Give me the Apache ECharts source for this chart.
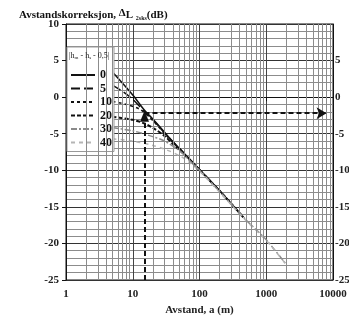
<!DOCTYPE html>
<html>
<head>
<meta charset="utf-8">
<script src="https://cdn.jsdelivr.net/npm/echarts@6/dist/echarts.min.js"></script>
<style>
html, body { margin: 0; padding: 0; background: #fff; }
#chart { width: 349px; height: 321px; }
</style>
</head>
<body>
<div id="chart"></div>
<script>
// kurver for |hm - hs - 0,5| (avstand a i m, korreksjon i dB)
var names = ['0', '5', '10', '20', '30', '40']
var h0 = [[5, 3.4], [10, 0.3], [15, -1.8], [20, -3.0], [30, -4.8], [40, -6.1], [50, -7.0], [100, -9.9], [200, -12.8], [450, -16.4]]
var h5 = [[5, 1.6], [7, 0.8], [10, -0.3], [13, -1.4], [16, -2.3], [20, -3.1], [30, -4.9], [50, -7.0], [100, -9.9], [200, -12.8], [450, -16.4]]
var h10 = [[5, -0.6], [8, -1.0], [13, -1.7], [20, -3.2], [30, -5.0], [50, -7.1], [100, -9.9], [200, -12.8], [450, -16.4]]
var h20 = [[5, -2.7], [10, -3.1], [15, -3.6], [20, -4.2], [30, -5.3], [40, -6.4], [60, -7.9], [100, -10.0], [200, -12.8], [450, -16.4]]
var h30 = [[5, -4.2], [10, -4.6], [20, -5.4], [30, -6.0], [50, -7.3], [70, -8.6], [100, -10.0], [200, -12.9], [500, -16.8], [1000, -19.5], [2000, -22.9]]
var h40 = [[5, -5.7], [10, -6.0], [20, -6.6], [30, -7.1], [50, -8.0], [70, -8.9], [100, -10.1], [200, -13.0], [500, -16.9], [1000, -19.6], [2000, -22.9]]

// eksempel-avlesning (piler)
var readA = 15
var readDb = -2.2
var arrowEndA = 8000

var xMin = 1
var xMax = 10000
var yMin = -25
var yMax = 10

// vertikale hjelpelinjer 2..9 i hver dekade
var minorX = []
for (var d = 1; d < xMax; d *= 10) {
  for (var k = 2; k <= 9; k++) minorX.push(k * d)
}

var font = 'Liberation Serif'
var chart = echarts.init(document.getElementById('chart'))

var styles = [
  { color: '#111', width: 1.5, type: 'solid' },
  { color: '#111', width: 1.5, type: [9, 4] },
  { color: '#111', width: 1.5, type: [3, 3] },
  { color: '#111', width: 2, type: [4, 2] },
  { color: '#8a8a8a', width: 1.5, type: [6, 2, 2, 2] },
  { color: '#b5b5b5', width: 1.5, type: [4, 4] }
]
var curves = [h0, h5, h10, h20, h30, h40]

var series = curves.map(function (c, i) {
  return {
    name: names[i],
    type: 'line',
    data: c,
    symbol: 'none',
    smooth: 0.3,
    z: 3,
    itemStyle: { color: styles[i].color },
    lineStyle: styles[i]
  }
})

// rutenett + piler
series.push({
  name: 'rutenett',
  type: 'line',
  data: [],
  z: 1,
  markLine: {
    silent: true,
    symbol: ['none', 'none'],
    label: { show: false },
    animation: false,
    lineStyle: { color: '#8c8c8c', width: 1, type: 'solid' },
    data: minorX.map(function (v) { return { xAxis: v } })
  }
})
series.push({
  name: 'piler',
  type: 'line',
  data: [],
  z: 4,
  markLine: {
    silent: true,
    label: { show: false },
    animation: false,
    lineStyle: { color: '#111', width: 2, type: [5, 3] },
    data: [
      [{ coord: [readA, yMin], symbol: 'none' }, { coord: [readA, readDb - 0.4], symbol: 'triangle', symbolSize: [9, 11] }],
      [{ coord: [readA, readDb], symbol: 'none' }, { coord: [arrowEndA, readDb], symbol: 'arrow', symbolSize: [9, 10] }]
    ]
  }
})

var yAxisBase = {
  type: 'value',
  min: yMin,
  max: yMax,
  interval: 5,
  axisLine: { show: true, lineStyle: { color: '#111', width: 1 } },
  axisTick: { show: true, length: 4, lineStyle: { color: '#111' } },
  axisLabel: { fontFamily: font, fontWeight: 'bold', fontSize: 11, color: '#222', margin: 7 }
}

chart.setOption({
  animation: false,
  title: {
    text: 'Avstandskorreksjon, {d|Δ}L {s|2sks}(dB)',
    left: 14,
    top: 3,
    textStyle: {
      fontFamily: font,
      fontWeight: 'bold',
      fontSize: 11,
      color: '#111',
      rich: {
        d: { fontFamily: font, fontWeight: 'bold', fontSize: 11, color: '#111', padding: [0, 0, 4, 0] },
        s: { fontFamily: font, fontWeight: 'bold', fontSize: 6, color: '#111', padding: [5, 0, 0, 0] }
      }
    }
  },
  legend: {
    data: names,
    orient: 'vertical',
    left: 67,
    top: 47,
    itemWidth: 24,
    itemHeight: 12,
    itemGap: 1.5,
    padding: [22, 2, 3, 3],
    backgroundColor: '#fff',
    borderColor: '#999',
    borderWidth: 1,
    selectedMode: false,
    itemStyle: { opacity: 0, borderWidth: 0 },
    textStyle: { fontFamily: font, fontWeight: 'bold', fontSize: 12, color: '#111' }
  },
  graphic: [{
    type: 'text',
    left: 69,
    top: 52,
    z: 100,
    style: {
      text: '|h{m|m} - h{m|s} - 0,5|',
      fontFamily: font,
      fontSize: 8,
      fill: '#222',
      rich: { m: { fontFamily: font, fontSize: 5, fill: '#222', padding: [4, 0, 0, 0] } }
    }
  }],
  grid: {
    left: 66,
    right: 16,
    top: 24,
    bottom: 41,
    show: true,
    borderColor: '#111',
    borderWidth: 1,
    containLabel: false,
    outerBoundsMode: 'none'
  },
  xAxis: {
    type: 'log',
    logBase: 10,
    min: xMin,
    max: xMax,
    name: 'Avstand, a (m)',
    nameLocation: 'middle',
    nameGap: 25,
    nameTextStyle: { fontFamily: font, fontWeight: 'bold', fontSize: 11, color: '#222' },
    axisLine: { show: true, lineStyle: { color: '#111' } },
    axisTick: { show: true, length: 4, lineStyle: { color: '#111' } },
    axisLabel: {
      fontFamily: font, fontWeight: 'bold', fontSize: 11, color: '#222', margin: 9,
      showMinLabel: true, showMaxLabel: true,
      formatter: function (v) { return String(Math.round(v)) }
    },
    splitLine: { show: true, lineStyle: { color: '#444', width: 1 } }
  },
  yAxis: [
    Object.assign({}, yAxisBase, {
      position: 'left',
      splitLine: { show: true, lineStyle: { color: '#333', width: 1 } },
      minorTick: { show: false, splitNumber: 5 },
      minorSplitLine: { show: true, lineStyle: { color: '#8c8c8c', width: 1 } }
    }),
    Object.assign({}, yAxisBase, {
      position: 'right',
      splitLine: { show: false },
      axisTick: { show: false },
      axisLabel: Object.assign({}, yAxisBase.axisLabel, {
        margin: 2,
        formatter: function (v) { return v === yMax ? '' : String(v) }
      })
    })
  ],
  series: series
})
</script>
</body>
</html>
